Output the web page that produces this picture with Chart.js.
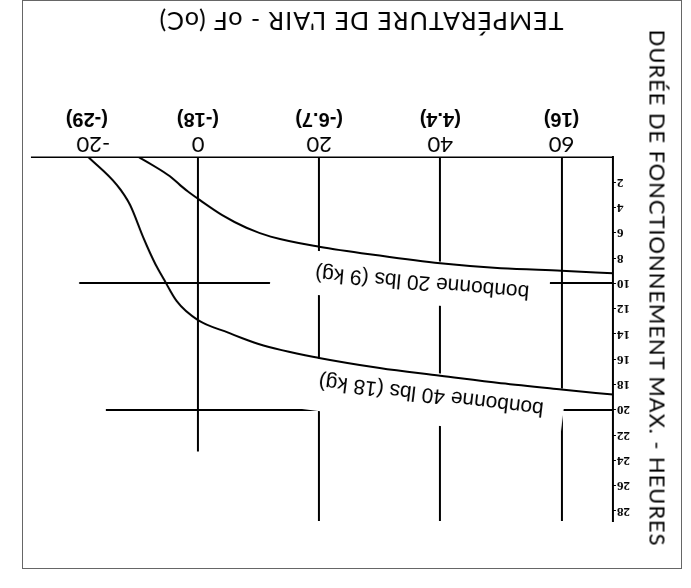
<!DOCTYPE html>
<html>
<head>
<meta charset="utf-8">
<script src="https://cdn.jsdelivr.net/npm/chart.js@4"></script>
<style>
    html, body { margin: 0; padding: 0; background: #fff; }
    #wrap {
        position: absolute; left: 0; top: 0;
        width: 691px; height: 588px;
        transform: rotate(180deg);
        background: #fff;
    }
    #frame {
        position: absolute; left: 9px; top: 19px;
        width: 658px; height: 567px;
        border: 1px solid #666;
    }
    canvas { position: absolute; left: 0; top: 0; }
    .axis-title {
        position: absolute;
        font-family: Lato, 'Open Sans', sans-serif;
        font-weight: 400;
        color: #000;
        white-space: nowrap;
    }
    #xTitle { left: 330px; top: 566px; font-size: 25px; letter-spacing: 1px; transform: translate(-50%, -50%); }
    #yTitle { left: 33px; top: 300px; font-size: 22px; letter-spacing: 0.9px; transform: translate(-50%, -50%) rotate(-90deg); }
</style>
</head>
<body>
<div id="wrap">
    <div id="frame"></div>
    <canvas id="runtimeChart" width="691" height="588"></canvas>
    <div class="axis-title" id="xTitle">TEMPÉRATURE DE L'AIR - oF (oC)</div>
    <div class="axis-title" id="yTitle">DURÉE DE FONCTIONNEMENT MAX. - HEURES</div>
</div>
<script>
// Tick values and labels
const tempTicksF = [-20, 0, 20, 40, 60];
const tempLabelsC = ['(-29)', '(-18)', '(-6.7)', '(4.4)', '(16)'];
const hourTicks = [2, 4, 6, 8, 10, 12, 14, 16, 18, 20, 22, 24, 26, 28];

// Reference lines (the original only has a few, of uneven length)
const tempGridLines = [0, 20, 40, 60];
const tempGridTopHours = [23.3, 28.8, 28.8, 28.8];
const hourGridLines = [10, 20];
const hourGridFromTemp = [-19.6, -15.2];

// bonbonne 20 lbs (9 kg)
const temp20 = [-9.8, -5, -2, 0, 4, 8, 12, 20, 30, 40, 50, 60, 68.5];
const hours20 = [0, 1.4, 2.6, 3.3, 4.6, 5.6, 6.3, 7.1, 7.8, 8.4, 8.8, 9.0, 9.2];

// bonbonne 40 lbs (18 kg)
const temp40 = [-18.1, -13.4, -11.2, -9, -7, -5.6, -3.5, 0, 5, 10, 20, 30, 40, 50, 60, 68.5];
const hours40 = [0, 2.2, 3.8, 6.4, 8.5, 9.7, 11.4, 12.9, 13.9, 14.8, 15.9, 16.7, 17.3, 17.9, 18.4, 18.8];

const seriesNames = ['bonbonne 20 lbs (9 kg)', 'bonbonne 40 lbs (18 kg)'];

function toPoints(xs, ys) {
    return xs.map(function(x, i) { return { x: x, y: ys[i] }; });
}

// Grid lines and tilted curve labels, drawn under the curves
const chartDecor = {
    id: 'chartDecor',
    beforeDatasetsDraw: function(chart, args, opts) {
        const ctx = chart.ctx;
        const xs = chart.scales.x;
        const ys = chart.scales.y;
        const area = chart.chartArea;

        ctx.save();
        ctx.strokeStyle = '#000';
        ctx.lineWidth = 2;
        ctx.beginPath();
        tempGridLines.forEach(function(t, i) {
            const px = Math.round(xs.getPixelForValue(t));
            ctx.moveTo(px, area.bottom);
            ctx.lineTo(px, ys.getPixelForValue(tempGridTopHours[i]));
        });
        hourGridLines.forEach(function(h, i) {
            const py = Math.round(ys.getPixelForValue(h));
            ctx.moveTo(xs.getPixelForValue(hourGridFromTemp[i]), py);
            ctx.lineTo(area.left, py);
        });
        ctx.stroke();
        ctx.restore();

        opts.items.forEach(function(item) {
            const px = xs.getPixelForValue(item.x);
            const py = ys.getPixelForValue(item.y);
            const b = item.box;
            ctx.save();
            ctx.translate(px, py);
            ctx.rotate(item.angle * Math.PI / 180);
            ctx.font = '21px "Liberation Sans", Arial, sans-serif';
            ctx.textAlign = 'center';
            ctx.textBaseline = 'middle';
            const w = ctx.measureText(item.text).width;
            ctx.fillStyle = '#fff';
            ctx.fillRect(-w / 2 - b[3], -b[0], w + b[3] + b[1], b[0] + b[2]);
            ctx.fillStyle = '#000';
            ctx.fillText(item.text, 0, 0);
            ctx.restore();
        });
    }
};

const chart = new Chart(document.getElementById('runtimeChart'), {
    type: 'line',
    data: {
        datasets: [
            {
                label: seriesNames[0],
                data: toPoints(temp20, hours20),
                borderColor: '#000',
                borderWidth: 2,
                pointRadius: 0,
                cubicInterpolationMode: 'monotone',
                fill: false
            },
            {
                label: seriesNames[1],
                data: toPoints(temp40, hours40),
                borderColor: '#000',
                borderWidth: 2,
                pointRadius: 0,
                cubicInterpolationMode: 'monotone',
                fill: false
            }
        ]
    },
    options: {
        responsive: false,
        animation: false,
        events: [],
        layout: {
            padding: { top: 67, left: 48, right: 32, bottom: 107 }
        },
        plugins: {
            legend: { display: false },
            tooltip: { enabled: false },
            chartDecor: {
                // box padding: top, right, bottom, left
                items: [
                    { text: seriesNames[0], x: 37, y: 9.9, angle: 5, box: [22, 44, 22, 20] },
                    { text: seriesNames[1], x: 38.5, y: 18.8, angle: 7, box: [30, 44, 22, 20] }
                ]
            }
        },
        scales: {
            x: {
                type: 'linear',
                position: 'bottom',
                reverse: true,
                min: -27.4,
                max: 68.5,
                afterBuildTicks: function(axis) {
                    axis.ticks = tempTicksF.map(function(v) { return { value: v }; });
                },
                afterFit: function(axis) { axis.height = 26; },
                grid: { display: false, drawTicks: false },
                border: { display: true, color: '#000', width: 1.5 },
                ticks: {
                    padding: 0,
                    color: '#000',
                    font: { family: 'Lato, "Open Sans", sans-serif', size: 22, weight: '400' },
                    callback: function(v) {
                        // the -20 label sits a little off its tick in the original
                        return v === tempTicksF[0] ? v + '\u2002\u2002\u2002' : String(v);
                    }
                }
            },
            x2: {
                type: 'linear',
                position: 'bottom',
                reverse: true,
                min: -27.4,
                max: 68.5,
                afterBuildTicks: function(axis) {
                    axis.ticks = tempTicksF.map(function(v) { return { value: v }; });
                },
                afterFit: function(axis) { axis.height = 24; },
                grid: { display: false, drawTicks: false },
                border: { display: false },
                ticks: {
                    padding: 0,
                    color: '#000',
                    font: { family: '"Liberation Sans", Arial, sans-serif', size: 20, weight: 'bold' },
                    callback: function(v) {
                        const i = tempTicksF.indexOf(v);
                        const lbl = tempLabelsC[i];
                        return i === 0 ? lbl + '\u2002\u2002' : lbl;
                    }
                }
            },
            y: {
                type: 'linear',
                position: 'left',
                min: 0,
                max: 28.8,
                afterBuildTicks: function(axis) {
                    axis.ticks = hourTicks.map(function(v) { return { value: v }; });
                },
                afterFit: function(axis) { axis.width = 30; },
                grid: {
                    color: 'rgba(0,0,0,0)',
                    tickColor: '#000',
                    tickLength: 3,
                    tickWidth: 1
                },
                border: { display: true, color: '#000', width: 2 },
                ticks: {
                    padding: 1,
                    color: '#000',
                    font: { family: '"Liberation Serif", "Times New Roman", serif', size: 13, weight: 'bold' }
                }
            }
        }
    },
    plugins: [chartDecor]
});
</script>
</body>
</html>
